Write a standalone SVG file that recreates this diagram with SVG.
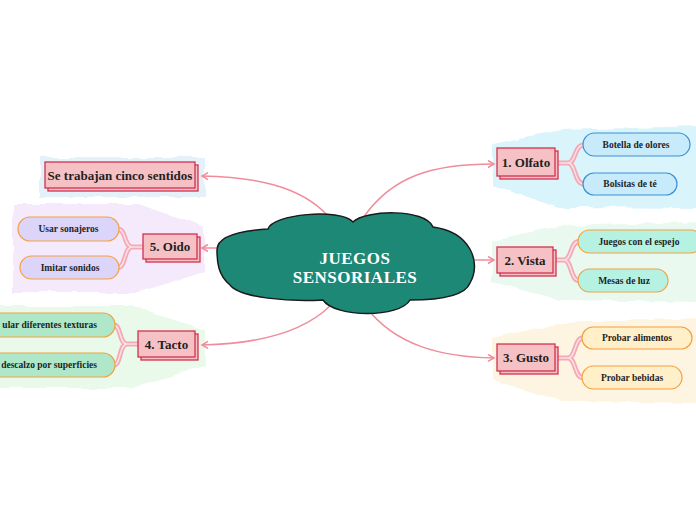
<svg xmlns="http://www.w3.org/2000/svg" width="696" height="520" viewBox="0 0 696 520">
<defs>
<filter id="wavy" x="-10%" y="-10%" width="120%" height="120%">
<feTurbulence type="fractalNoise" baseFrequency="0.06" numOctaves="1" seed="3" result="n"/>
<feDisplacementMap in="SourceGraphic" in2="n" scale="7" xChannelSelector="R" yChannelSelector="G"/>
</filter>
<marker id="arr" markerWidth="10" markerHeight="10" refX="7" refY="4" orient="auto" markerUnits="userSpaceOnUse">
<path d="M1,0.5 L7,4 L1,7.5" fill="none" stroke="#f08c9c" stroke-width="1.5"/>
</marker>
</defs>
<style>
.lbl{font-family:"Liberation Serif","DejaVu Serif",serif;font-weight:bold;fill:#1f1f1f;text-anchor:middle;dominant-baseline:central}
.main{font-size:13px}
.sub{font-size:9.5px}
.mbox{fill:#f5c1c5;stroke:#d3324f;stroke-width:1.3}
.conn{fill:none;stroke:#f08c9c;stroke-width:1.5}
.brO{fill:none;stroke:#f3a9b6;stroke-width:5}
.brI{fill:none;stroke:#fde1e5;stroke-width:1.4}
.bg{filter:url(#wavy)}
</style>

<!-- background areas -->
<path class="bg" fill="#d9f4fb" d="M492,144 L560,130 L700,126 L700,208 L560,207 L492,186 Z"/>
<path class="bg" fill="#e9f9ef" d="M492,240 L560,226 L700,222 L700,302 L560,300 L492,282 Z"/>
<path class="bg" fill="#fdf5e1" d="M492,338 L560,323 L700,318 L700,403 L560,401 L492,380 Z"/>
<path class="bg" fill="#e4f1f8" d="M40,157 L204,157 L204,197 L40,197 Z"/>
<path class="bg" fill="#f5eafb" d="M13,204 L140,204 L204,228 L204,272 L140,292 L13,292 Z"/>
<path class="bg" fill="#e9faea" d="M-5,306 L130,306 L205,330 L205,366 L130,388 L-5,388 Z"/>

<!-- connectors -->
<g id="connectors">
<path class="conn" d="M363,218 C392,176 432,164 494,164" marker-end="url(#arr)"/>
<path class="conn" d="M475,260 L494,260" marker-end="url(#arr)"/>
<path class="conn" d="M366,307 C395,345 440,357 494,358" marker-end="url(#arr)"/>
<path class="conn" d="M328,216 C300,185 252,177 202,176" marker-end="url(#arr)"/>
<path class="conn" d="M217,248 L202,248" marker-end="url(#arr)"/>
<path class="conn" d="M330,306 C300,335 252,344 202,345" marker-end="url(#arr)"/>
<!-- branches -->
<path class="brO" d="M556,163 L568,163 C576,163 574,145 584,145 M568,163 C576,163 574,184 584,184"/>
<path class="brI" d="M556,163 L568,163 C576,163 574,145 584,145 M568,163 C576,163 574,184 584,184"/>
<path class="brO" d="M554,260 L564,260 C572,260 570,241.5 579,241.5 M564,260 C572,260 570,280.5 579,280.5"/>
<path class="brI" d="M554,260 L564,260 C572,260 570,241.5 579,241.5 M564,260 C572,260 570,280.5 579,280.5"/>
<path class="brO" d="M556,358 L568,358 C576,358 574,338 583,338 M568,358 C576,358 574,377.5 583,377.5"/>
<path class="brI" d="M556,358 L568,358 C576,358 574,338 583,338 M568,358 C576,358 574,377.5 583,377.5"/>
<path class="brO" d="M144,247 L132,247 C124,247 126,229 118,229 M132,247 C124,247 126,267.5 118,267.5"/>
<path class="brI" d="M144,247 L132,247 C124,247 126,229 118,229 M132,247 C124,247 126,267.5 118,267.5"/>
<path class="brO" d="M139,344 L127,344 C119,344 121,325 114,325 M127,344 C119,344 121,365 114,365"/>
<path class="brI" d="M139,344 L127,344 C119,344 121,325 114,325 M127,344 C119,344 121,365 114,365"/>
</g>

<!-- central node -->
<g id="central">
<path fill="#1e8877" stroke="#1a1a1a" stroke-width="1.5" d="M217,250 C217,238 235,231 268,229 C272,214 340,208 353,222 C365,210 425,208 433,227 C470,232 482,262 470,283 C465,296 440,300 410,300 C400,318 335,318 323,300 C290,302 240,298 230,285 C218,275 217,262 217,250 Z"/>
<text class="lbl" x="355" y="258" style="font-size:17px;fill:#ffffff;letter-spacing:0.5px">JUEGOS</text>
<text class="lbl" x="355" y="277" style="font-size:17px;fill:#ffffff;letter-spacing:0.5px">SENSORIALES</text>
</g>

<!-- main nodes -->
<g id="olfato">
<rect class="mbox" x="500" y="151" width="58" height="28"/>
<rect class="mbox" x="497" y="148" width="58" height="28"/>
<text class="lbl main" x="526" y="162">1. Olfato</text>
</g>
<g id="vista">
<rect class="mbox" x="500" y="250" width="56" height="26"/>
<rect class="mbox" x="497" y="247" width="56" height="26"/>
<text class="lbl main" x="525" y="260">2. Vista</text>
</g>
<g id="gusto">
<rect class="mbox" x="500" y="347" width="58" height="27"/>
<rect class="mbox" x="497" y="344" width="58" height="27"/>
<text class="lbl main" x="526" y="357.5">3. Gusto</text>
</g>
<g id="sentidos">
<rect class="mbox" x="48" y="165" width="150" height="26"/>
<rect class="mbox" x="45" y="162" width="150" height="26"/>
<text class="lbl main" x="120" y="175">Se trabajan cinco sentidos</text>
</g>
<g id="oido">
<rect class="mbox" x="146" y="237" width="54" height="25"/>
<rect class="mbox" x="143" y="234" width="54" height="25"/>
<text class="lbl main" x="170" y="246.5">5. Oido</text>
</g>
<g id="tacto">
<rect class="mbox" x="141" y="334" width="57" height="26"/>
<rect class="mbox" x="138" y="331" width="57" height="26"/>
<text class="lbl main" x="166.5" y="344">4. Tacto</text>
</g>

<!-- sub nodes -->
<g id="botella">
<rect x="583" y="133" width="107" height="23" rx="11.5" fill="#c8ebfb" stroke="#3d8fd6" stroke-width="1.2"/>
<text class="lbl sub" x="636" y="144.5">Botella de olores</text>
</g>
<g id="bolsitas">
<rect x="583" y="173" width="94" height="22" rx="11" fill="#c8ebfb" stroke="#3d8fd6" stroke-width="1.2"/>
<text class="lbl sub" x="630" y="184">Bolsitas de té</text>
</g>
<g id="espejo">
<rect x="578" y="230" width="124" height="23" rx="11.5" fill="#b6f2e2" stroke="#f1a243" stroke-width="1.2"/>
<text class="lbl sub" x="639" y="241.5">Juegos con el espejo</text>
</g>
<g id="mesas">
<rect x="578" y="269" width="90" height="23" rx="11.5" fill="#b6f2e2" stroke="#f1a243" stroke-width="1.2"/>
<text class="lbl sub" x="624" y="280.5">Mesas de luz</text>
</g>
<g id="alimentos">
<rect x="582" y="327" width="110" height="22" rx="11" fill="#fff0c9" stroke="#f5a040" stroke-width="1.2"/>
<text class="lbl sub" x="637" y="338">Probar alimentos</text>
</g>
<g id="bebidas">
<rect x="582" y="366" width="100" height="23" rx="11.5" fill="#fff0c9" stroke="#f5a040" stroke-width="1.2"/>
<text class="lbl sub" x="632" y="377.5">Probar bebidas</text>
</g>
<g id="sonajeros">
<rect x="18" y="217" width="101" height="24" rx="12" fill="#ddd4fa" stroke="#f1a243" stroke-width="1.2"/>
<text class="lbl sub" x="68.5" y="229">Usar sonajeros</text>
</g>
<g id="sonidos">
<rect x="20" y="256" width="99" height="23" rx="11.5" fill="#ddd4fa" stroke="#f1a243" stroke-width="1.2"/>
<text class="lbl sub" x="70" y="267.5">Imitar sonidos</text>
</g>
<g id="texturas">
<rect x="-40" y="313" width="155" height="24" rx="12" fill="#aee8c9" stroke="#f1a243" stroke-width="1.2"/>
<text class="lbl sub" x="97" y="325" style="text-anchor:end">ular diferentes texturas</text>
</g>
<g id="descalzo">
<rect x="-40" y="353" width="155" height="24" rx="12" fill="#aee8c9" stroke="#f1a243" stroke-width="1.2"/>
<text class="lbl sub" x="97" y="365" style="text-anchor:end">descalzo por superficies</text>
</g>
</svg>
